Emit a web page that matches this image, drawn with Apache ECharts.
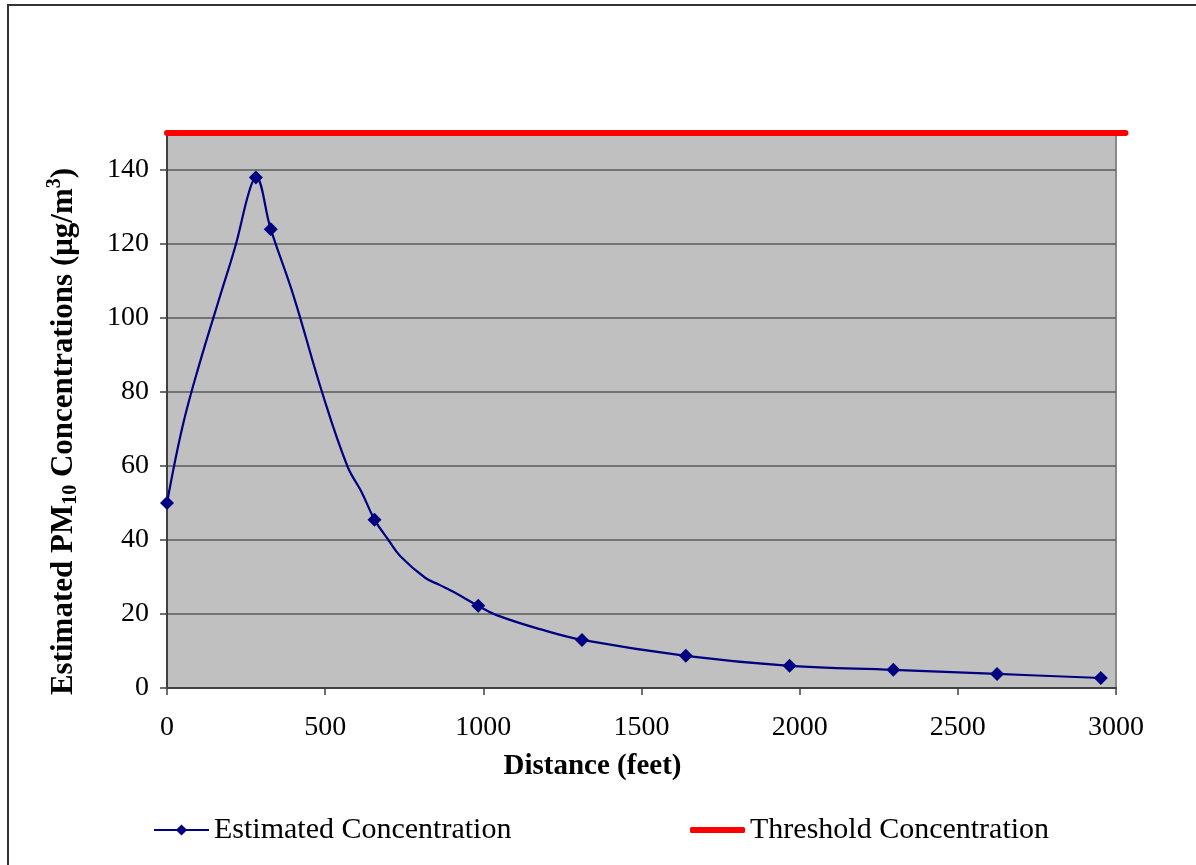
<!DOCTYPE html>
<html>
<head>
<meta charset="utf-8">
<script src="https://cdn.jsdelivr.net/npm/echarts@6/dist/echarts.min.js"></script>
<style>
html,body{margin:0;padding:0;background:#fff;}
#chart{width:1196px;height:865px;}
</style>
</head>
<body>
<div id="chart"></div>
<script>
// ---- data ----
// curve points (feet, µg/m3); markers are shown only where marked[i] is 1
const distances      = [0, 50, 104, 168, 218, 259, 281, 328, 400, 490, 570, 615, 656, 700, 737, 816, 863, 905, 984, 1042, 1179, 1312, 1640, 1968, 2296, 2624, 2952];
const concentrations = [50, 71, 88, 106, 120, 134, 138, 124, 106, 80, 60, 53, 45.5, 40, 35.7, 29.8, 27.8, 26, 22.2, 19.7, 15.9, 13, 8.7, 6, 4.9, 3.8, 2.7];
const marked         = [1, 0, 0, 0, 0, 0, 1, 1, 0, 0, 0, 0, 1, 0, 0, 0, 0, 0, 1, 0, 0, 1, 1, 1, 1, 1, 1];
const thresholdX = [0, 3030];
const thresholdY = [150, 150];
const yTicks = [0, 20, 40, 60, 80, 100, 120, 140];
const xTicks = [0, 500, 1000, 1500, 2000, 2500, 3000];
const seriesNames = ['Estimated Concentration', 'Threshold Concentration'];

const FONT = '"Liberation Serif", "Times New Roman", serif';
const chart = echarts.init(document.getElementById('chart'), null, {renderer: 'canvas'});

const estData = distances.map((d, i) => marked[i]
  ? {value: [d, concentrations[i]]}
  : {value: [d, concentrations[i]], symbol: 'none'});
const thrData = thresholdX.map((d, i) => [d, thresholdY[i]]);

// plot-area width is 949 px for 0..3000 ft; the threshold line runs on to 3030 ft
const plotW = 1196 - 167 - 80;
const thrRight = 80 - plotW * (thresholdX[1] - 3000) / 3000;

chart.setOption({
  backgroundColor: '#ffffff',
  animation: false,
  graphic: [{
    type: 'rect',
    shape: {x: 8, y: 5, width: 1300, height: 1000},
    style: {fill: 'none', stroke: '#333', lineWidth: 2},
    silent: true,
    z: -1
  }],
  grid: [
    {
      left: 167, right: 80, top: 133, bottom: 177,
      show: true, backgroundColor: '#c0c0c0', borderColor: '#888', borderWidth: 2
    },
    {
      left: 167, right: thrRight, top: 133, bottom: 177, show: false
    }
  ],
  xAxis: [
    {
      type: 'value', min: 0, max: 3000, interval: 500, gridIndex: 0,
      name: 'Distance (feet)', nameLocation: 'middle', nameGap: 64,
      nameTextStyle: {fontFamily: FONT, fontSize: 29, fontWeight: 'bold', color: '#000', padding: [0, 98, 0, 0]},
      axisLine: {show: true, lineStyle: {color: '#404040', width: 2}},
      axisTick: {show: true, inside: false, length: 7, lineStyle: {color: '#404040', width: 1.5}},
      axisLabel: {fontFamily: FONT, fontSize: 28, color: '#000', margin: 26,
        customValues: xTicks, formatter: v => String(v)},
      splitLine: {show: false}
    },
    {
      type: 'value', min: 0, max: thresholdX[1], gridIndex: 1, show: false
    }
  ],
  yAxis: [
    {
      type: 'value', min: 0, max: 150, interval: 20, gridIndex: 0,
      name: '{b|Estimated PM}{sub|10}{b| Concentrations (μg/m}{sup|3}{b|)}',
      nameLocation: 'middle', nameRotate: 90, nameGap: 84,
      nameTextStyle: {
        fontFamily: FONT, fontSize: 31, fontWeight: 'bold', color: '#000',
        padding: [0, 42, 0, 0],
        rich: {
          b: {fontFamily: FONT, fontSize: 31, fontWeight: 'bold', color: '#000'},
          sub: {fontFamily: FONT, fontSize: 20, fontWeight: 'bold', color: '#000', padding: [13, 0, 0, 0]},
          sup: {fontFamily: FONT, fontSize: 20, fontWeight: 'bold', color: '#000', padding: [0, 0, 18, 0]}
        }
      },
      axisLine: {show: true, lineStyle: {color: '#404040', width: 2}},
      axisTick: {show: true, inside: false, length: 7, lineStyle: {color: '#404040', width: 1.5},
        customValues: yTicks},
      axisLabel: {fontFamily: FONT, fontSize: 28, color: '#000', margin: 18,
        customValues: yTicks, formatter: v => String(v)},
      splitLine: {show: true, lineStyle: {color: '#5a5a5a', width: 1.5}}
    },
    {
      type: 'value', min: 0, max: 150, gridIndex: 1, show: false
    }
  ],
  legend: [
    {
      top: 815, left: 153, padding: 0,
      itemWidth: 55, itemHeight: 14,
      textStyle: {fontFamily: FONT, fontSize: 30, color: '#000'},
      data: [seriesNames[0]]
    },
    {
      top: 815, left: 690, padding: 0,
      itemWidth: 55, itemHeight: 6,
      icon: 'roundRect',
      textStyle: {fontFamily: FONT, fontSize: 30, color: '#000'},
      data: [seriesNames[1]]
    }
  ],
  series: [
    {
      name: seriesNames[0], type: 'line', data: estData,
      xAxisIndex: 0, yAxisIndex: 0,
      smooth: 0.4,
      symbol: 'diamond', symbolSize: 14,
      itemStyle: {color: '#000080'},
      lineStyle: {color: '#000080', width: 2.2},
      z: 3
    },
    {
      name: seriesNames[1], type: 'line', data: thrData,
      xAxisIndex: 1, yAxisIndex: 1,
      symbol: 'none', clip: false,
      itemStyle: {color: '#ff0000'},
      lineStyle: {color: '#ff0000', width: 6, cap: 'round'},
      z: 4
    }
  ]
});
</script>
</body>
</html>
